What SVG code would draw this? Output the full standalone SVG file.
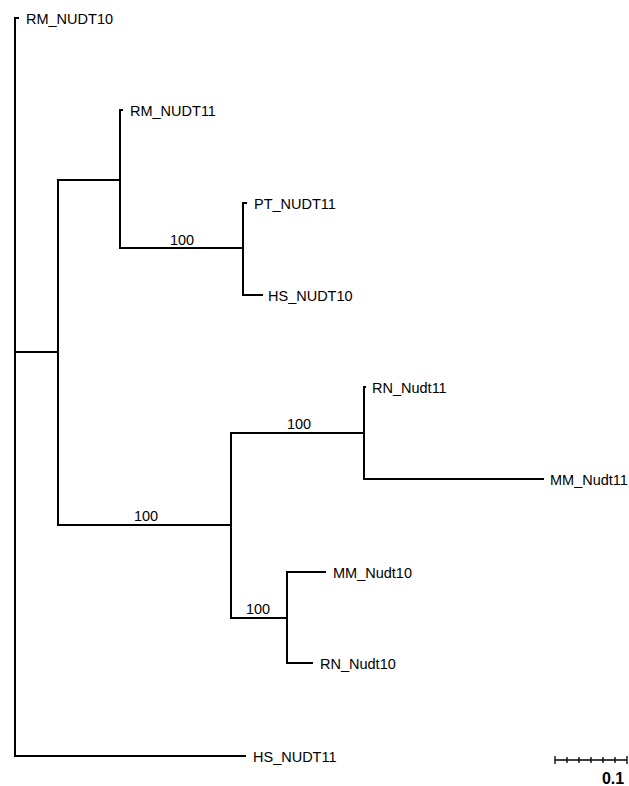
<svg xmlns="http://www.w3.org/2000/svg" width="629" height="786" viewBox="0 0 629 786">
<style>
.b{fill:none;stroke:#000;stroke-width:2;stroke-linecap:square}
.t{font-family:"Liberation Sans",Arial,sans-serif;font-size:14.5px;fill:#000}
.s{font-family:"Liberation Sans",Arial,sans-serif;font-size:14.5px;fill:#000;text-anchor:middle}
.sb{stroke:#000;stroke-width:1.3;fill:none}
</style>
<rect width="629" height="786" fill="#fff"/>
<g id="connectors">
<path class="b" d="M18,18H15V756H245"/>
<path class="b" d="M15,352H58"/>
<path class="b" d="M58,180V525"/>
<path class="b" d="M58,180H120"/>
<path class="b" d="M122,110H120V248H243"/>
<path class="b" d="M246,203H243V295H262"/>
<path class="b" d="M58,525H231"/>
<path class="b" d="M231,433V618"/>
<path class="b" d="M231,433H364"/>
<path class="b" d="M365,387H364V479H543"/>
<path class="b" d="M231,618H287"/>
<path class="b" d="M325,572H287V663H312"/>
</g>
<g id="n_RM_NUDT10"><text class="t" x="26" y="24">RM_NUDT10</text></g>
<g id="n_RM_NUDT11"><text class="t" x="130" y="116">RM_NUDT11</text></g>
<g id="n_PT_NUDT11"><text class="t" x="254" y="209">PT_NUDT11</text></g>
<g id="n_HS_NUDT10"><text class="t" x="268" y="301">HS_NUDT10</text></g>
<g id="n_RN_Nudt11"><text class="t" x="372" y="393">RN_Nudt11</text></g>
<g id="n_MM_Nudt11"><text class="t" x="550" y="485">MM_Nudt11</text></g>
<g id="n_MM_Nudt10"><text class="t" x="333" y="578">MM_Nudt10</text></g>
<g id="n_RN_Nudt10"><text class="t" x="320" y="669">RN_Nudt10</text></g>
<g id="n_HS_NUDT11"><text class="t" x="253" y="762">HS_NUDT11</text></g>
<g id="bootstrap">
<text class="s" x="182" y="245">100</text>
<text class="s" x="146" y="521">100</text>
<text class="s" x="299" y="429">100</text>
<text class="s" x="258" y="614">100</text>
</g>
<g id="scalebar">
<path class="sb" d="M555,760H627M555,756V764M627,756V764M567,757V763M579,757V763M591,757V763M603,757V763M615,757V763"/>
<text x="613" y="784" style="font-family:'Liberation Sans',Arial,sans-serif;font-size:16px;font-weight:bold;text-anchor:middle">0.1</text>
</g>
</svg>
